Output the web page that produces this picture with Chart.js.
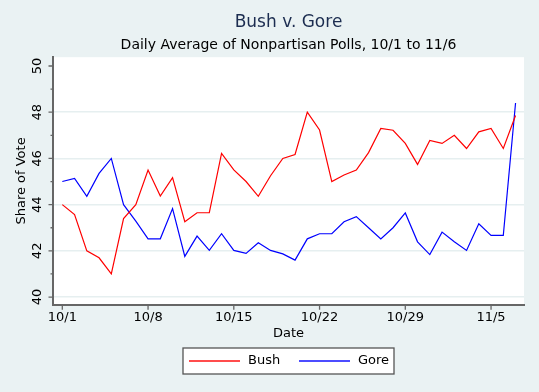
<!DOCTYPE html>
<html>
<head>
<meta charset="utf-8">
<script src="https://cdn.jsdelivr.net/npm/chart.js@4/dist/chart.umd.min.js"></script>
<style>
  body { margin: 0; background: #eaf2f3; }
  #wrap { width: 539px; height: 392px; }
</style>
</head>
<body>
<div id="wrap"><canvas id="myChart" width="539" height="392"></canvas></div>
<script>
// day index 0 = 10/1
var bush = [44.0, 43.57, 42.0, 41.7, 41.0, 43.4, 44.0, 45.5, 44.37, 45.17, 43.26, 43.65, 43.65,
            46.22, 45.5, 45.0, 44.36, 45.25, 46.0, 46.17, 48.0, 47.23, 45.0, 45.28, 45.5,
            46.25, 47.3, 47.22, 46.65, 45.74, 46.78, 46.65, 47.0, 46.43, 47.15, 47.3, 46.43, 47.86];
var gore = [45.0, 45.13, 44.36, 45.35, 46.0, 44.0, 43.29, 42.52, 42.52, 43.83, 41.76, 42.64, 42.02,
            42.74, 42.02, 41.89, 42.35, 42.02, 41.87, 41.6, 42.52, 42.74, 42.74, 43.26, 43.48,
            43.0, 42.52, 43.0, 43.64, 42.39, 41.84, 42.81, 42.39, 42.02, 43.17, 42.67, 42.67, 48.4];
var tickDays = [0, 7, 14, 21, 28, 35];
var tickLabels = ["10/1", "10/8", "10/15", "10/22", "10/29", "11/5"];
var yTicks = [40, 42, 44, 46, 48, 50];
var yMinor = [41, 43, 45, 47, 49];

var font = "'DejaVu Sans', sans-serif";

function pts(arr) {
  return arr.map(function (v, i) { return { x: i, y: v }; });
}

// tick marks, rotated y labels, legend box
var stataBits = {
  id: "stataBits",
  afterDraw: function (chart) {
    var ctx = chart.ctx;
    var xs = chart.scales.x, ys = chart.scales.y;
    var area = chart.chartArea;
    ctx.save();
    ctx.strokeStyle = "#666";
    ctx.lineWidth = 1.3;
    ctx.beginPath();
    yTicks.forEach(function (v) {
      var y = ys.getPixelForValue(v);
      ctx.moveTo(area.left - 4.5, y); ctx.lineTo(area.left, y);
    });
    yMinor.forEach(function (v) {
      var y = ys.getPixelForValue(v);
      ctx.moveTo(area.left - 2.5, y); ctx.lineTo(area.left, y);
    });
    tickDays.forEach(function (d) {
      var x = xs.getPixelForValue(d);
      ctx.moveTo(x, area.bottom); ctx.lineTo(x, area.bottom + 5);
    });
    ctx.stroke();

    ctx.fillStyle = "#000";
    ctx.font = "13px " + font;
    ctx.textAlign = "center";
    ctx.textBaseline = "middle";
    yTicks.forEach(function (v) {
      var y = ys.getPixelForValue(v);
      ctx.save();
      ctx.translate(37, y);
      ctx.rotate(-Math.PI / 2);
      ctx.fillText(String(v), 0, 1);
      ctx.restore();
    });

    // legend
    ctx.fillStyle = "#fff";
    ctx.fillRect(183, 348, 211, 26);
    ctx.strokeStyle = "#555";
    ctx.lineWidth = 1.3;
    ctx.strokeRect(183, 348, 211, 26);
    var items = [[189, 248], [299, 358]];
    chart.data.datasets.forEach(function (ds, i) {
      ctx.strokeStyle = ds.borderColor;
      ctx.globalAlpha = 0.7;
      ctx.lineWidth = 2;
      ctx.beginPath();
      ctx.moveTo(items[i][0], 361); ctx.lineTo(items[i][0] + 51, 361);
      ctx.stroke();
      ctx.globalAlpha = 1;
      ctx.fillStyle = "#000";
      ctx.textAlign = "left";
      ctx.fillText(ds.label, items[i][1], 361);
    });
    ctx.restore();
  }
};

new Chart("myChart", {
  type: "line",
  data: {
    datasets: [
      { label: "Bush", data: pts(bush), borderColor: "#ff0000", borderWidth: 1.2, pointRadius: 0, tension: 0 },
      { label: "Gore", data: pts(gore), borderColor: "#0000ff", borderWidth: 1.2, pointRadius: 0, tension: 0 }
    ]
  },
  options: {
    responsive: false,
    animation: false,
    layout: { padding: { left: 14, right: 15, top: 0, bottom: 52 } },
    plugins: {
      legend: { display: false },
      tooltip: { enabled: false },
      title: {
        display: true,
        fullSize: false,
        text: "Bush v. Gore",
        color: "#1c2d50",
        font: { family: font, size: 17, weight: "normal", lineHeight: 1.2 },
        padding: { top: 12, bottom: 4 }
      },
      subtitle: {
        display: true,
        fullSize: false,
        text: "Daily Average of Nonpartisan Polls, 10/1 to 11/6",
        color: "#000",
        font: { family: font, size: 14, weight: "normal", lineHeight: 1.2 },
        padding: { top: 1, bottom: 3 }
      }
    },
    scales: {
      x: {
        type: "linear",
        min: -0.76,
        max: 37.69,
        afterBuildTicks: function (scale) {
          scale.ticks = tickDays.map(function (d) { return { value: d }; });
        },
        ticks: {
          color: "#000",
          font: { family: font, size: 13 },
          padding: 5,
          maxRotation: 0,
          autoSkip: false,
          callback: function (v, i) { return tickLabels[i]; }
        },
        grid: { display: false, drawTicks: false },
        border: { color: "#666", width: 2 },
        title: {
          display: true,
          text: "Date",
          color: "#000",
          font: { family: font, size: 13, lineHeight: 1 },
          padding: { top: -3.3, bottom: 0 }
        }
      },
      y: {
        min: 39.67,
        max: 50.38,
        afterBuildTicks: function (scale) {
          scale.ticks = [40, 42, 44, 46, 48].map(function (v) { return { value: v }; });
        },
        ticks: { display: false },
        grid: { color: "#e6eff0", lineWidth: 1.5, drawTicks: false },
        border: { color: "#666", width: 2 },
        title: {
          display: true,
          text: "Share of Vote",
          color: "#000",
          font: { family: font, size: 13, lineHeight: 1.2 },
          padding: { top: 0, bottom: 23.4 }
        }
      }
    }
  },
  plugins: [stataBits, {
    id: "plotBg",
    beforeDraw: function (chart) {
      var a = chart.chartArea, ctx = chart.ctx;
      ctx.save();
      ctx.fillStyle = "#fff";
      ctx.fillRect(a.left, a.top, a.right - a.left, a.bottom - a.top);
      ctx.restore();
    }
  }]
});
</script>
</body>
</html>
